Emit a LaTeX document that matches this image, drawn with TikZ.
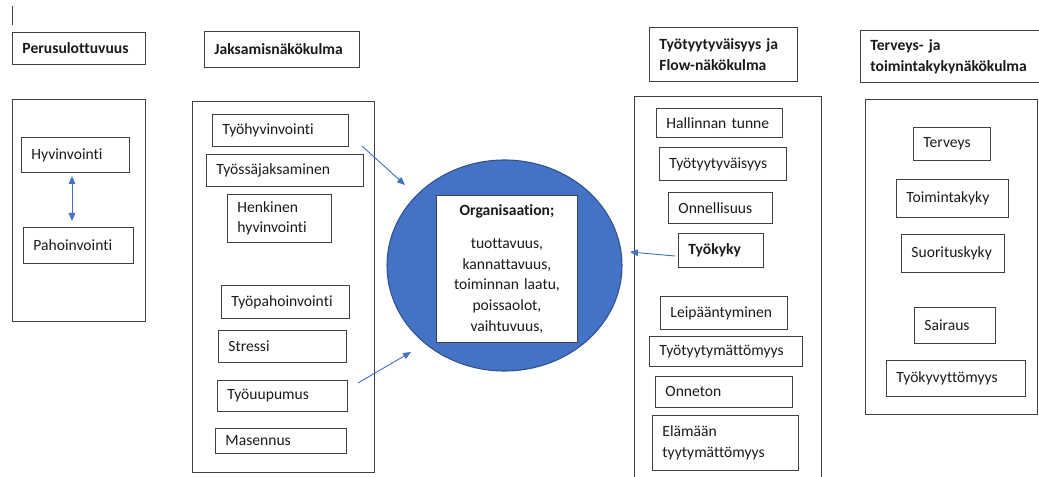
\documentclass[tikz,border=0pt]{standalone}
\usepackage{fontspec}
\setmainfont{Carlito}[Ligatures=NoCommon]
\usetikzlibrary{arrows.meta,shapes.geometric}
\definecolor{ablue}{HTML}{4472C4}
\definecolor{eblue}{HTML}{2F528F}
\definecolor{bline}{HTML}{404040}
\definecolor{tcol}{HTML}{1A1A1A}
\newcommand\nohy{\hyphenpenalty=10000\relax\exhyphenpenalty=10000\relax}
\newcommand\bx[7][]{%
  \pgfmathsetlengthmacro\bw{(#5-#3)*0.75pt}%
  \pgfmathsetlengthmacro\bh{(#6-#4)*0.75pt}%
  \pgfmathsetlengthmacro\tw{(#5-#3-20)*0.75pt}%
  \node[bxs,#1,minimum width=\bw,minimum height=\bh,text width=\tw,anchor=north west] (#2) at (#3,#4) {\nohy #7};}
\begin{document}
\begin{tikzpicture}[x=0.75pt,y=-0.75pt,
  bxs/.style={draw=bline,line width=0.7pt,rectangle,inner xsep=7.5pt,inner ysep=0pt,align=left,
    text=tcol,font=\fontsize{11.7}{15.5}\selectfont},
  hd/.style={font=\fontsize{11.7}{15.5}\selectfont\bfseries},
  bigbox/.style={draw=bline,line width=0.8pt},
  arr/.style={draw=ablue,line width=0.7pt,-{Triangle[length=6pt,width=5pt]}},
  arrb/.style={draw=ablue,line width=0.7pt,{Triangle[length=6pt,width=5pt]}-{Triangle[length=6pt,width=5pt]}}]
\useasboundingbox (0,0) rectangle (1039,477);
% cursor mark
\draw[bline,line width=0.7pt] (12,6) -- (12,25);
% headers
\bx[hd]{h1}{12}{32}{145}{64}{Perusulottuvuus}
\bx[hd]{h2}{204}{31}{359}{67}{Jaksamisnäkökulma}
\bx[hd]{h3}{649}{27}{797}{81}{Työtyytyväisyys ja\\Flow-näkökulma}
\bx[hd]{h4}{860}{30}{1038.5}{82}{Terveys- ja\\toimintakykynäkökulma}
% big boxes
\node[bigbox,anchor=north west,minimum width=133*0.75pt,minimum height=222*0.75pt,inner sep=0pt] (c1) at (12,99) {};
\node[bigbox,anchor=north west,minimum width=182*0.75pt,minimum height=371*0.75pt,inner sep=0pt] (c2) at (192,101) {};
\node[bigbox,anchor=north west,minimum width=187*0.75pt,minimum height=390*0.75pt,inner sep=0pt] (c3) at (634,96) {};
\node[bigbox,anchor=north west,minimum width=172*0.75pt,minimum height=315*0.75pt,inner sep=0pt] (c4) at (865,99) {};
% column 1
\bx{hyv}{21}{137}{129}{172}{Hyvinvointi}
\bx{pah}{23}{227}{133}{263}{Pahoinvointi}
% column 2
\bx{tyohyv}{212}{114}{348}{146}{Työhyvinvointi}
\bx{tyossa}{206}{154}{363}{186}{Työssäjaksaminen}
\bx{henk}{227}{194}{331}{242}{Henkinen\\hyvinvointi}
\bx{tyopah}{221}{285}{349}{318}{Työpahoinvointi}
\bx{stressi}{218}{330}{346}{362}{Stressi}
\bx{uupu}{217}{380}{347}{411}{Työuupumus}
\bx{masen}{215}{428}{346}{453}{Masennus}
% column 3
\bx{hall}{656}{108}{782}{137}{Hallinnan tunne}
\bx{tyyt}{659}{147}{786}{180}{Työtyytyväisyys}
\bx{onn}{668}{192}{772}{223}{Onnellisuus}
\bx[hd]{tyokyky}{678}{233}{763}{267}{Työkyky}
\bx{leip}{660}{296}{787}{329}{Leipääntyminen}
\bx{tyytm}{649}{336}{802}{366}{Työtyytymättömyys}
\bx{onneton}{655}{376}{792}{407}{Onneton}
\bx{elam}{652}{415}{798}{470}{Elämään\\tyytymättömyys}
% column 4
\bx{terv}{913}{127}{990}{160}{Terveys}
\bx{toim}{896}{179}{1008}{217}{Toimintakyky}
\bx{suor}{901}{234}{1004}{272}{Suorituskyky}
\bx{sair}{914}{307}{995}{343}{Sairaus}
\bx{tkyv}{886}{360}{1025}{396}{Työkyvyttömyys}
% centre
\node[ellipse,fill=ablue,draw=eblue,line width=0.8pt,minimum width=235*0.75pt,minimum height=211*0.75pt,inner sep=0pt] (ell) at (504.5,265.5) {};
\node[draw=bline,fill=white,line width=0.7pt,anchor=north west,minimum width=141*0.75pt,minimum height=147*0.75pt,
  text width=131*0.75pt,inner sep=0pt,align=center,text=tcol,font=\fontsize{11.7}{15.4}\selectfont] (org) at (436,195)
  {\textbf{Organisaation;}\\[9.4pt]tuottavuus,\\kannattavuus,\\toiminnan laatu,\\poissaolot,\\vaihtuvuus,};
% arrows
\coordinate (a1s) at (362,146);
\coordinate (a1e) at (405,185);
\coordinate (a2s) at (358,383);
\coordinate (a2e) at (411,352);
\coordinate (a3s) at (675,256);
\coordinate (a3e) at (630,252);
\coordinate (a4s) at (72,176);
\coordinate (a4e) at (72,221);
\draw[arr] (a1s) -- (a1e);
\draw[arr] (a2s) -- (a2e);
\draw[arr] (a3s) -- (a3e);
\draw[arrb] (a4s) -- (a4e);
\end{tikzpicture}
\end{document}
